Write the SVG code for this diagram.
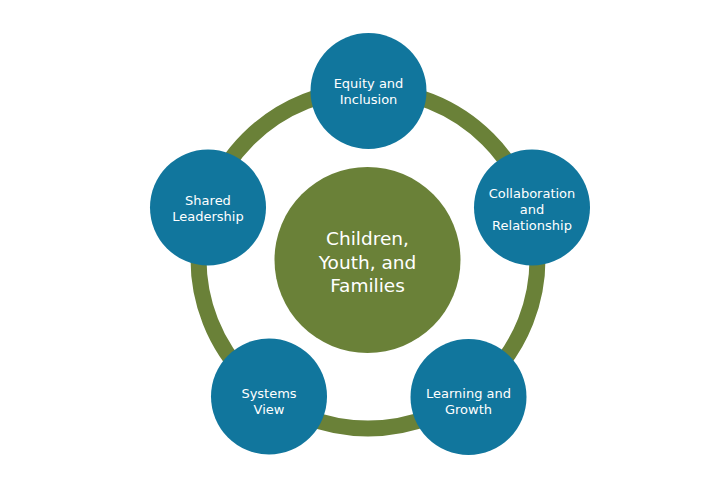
<svg xmlns="http://www.w3.org/2000/svg" width="720" height="500" viewBox="0 0 720 500">
<style>
.node{fill:#11769D}
.lbl{font-family:"DejaVu Sans","Open Sans",sans-serif;font-size:13px;fill:#ffffff;text-anchor:middle}
.big{font-family:"DejaVu Sans","Open Sans",sans-serif;font-size:18.5px;fill:#ffffff;text-anchor:middle}
</style>
<rect width="720" height="500" fill="#ffffff"/>
<g id="connectors">
<circle cx="368" cy="259" r="169.5" fill="none" stroke="#6A8138" stroke-width="16"/>
</g>
<g id="center">
<circle cx="367.5" cy="260" r="93" fill="#6A8138"/>
<text class="big" x="367.5" y="245">Children,</text>
<text class="big" x="367.5" y="269">Youth, and</text>
<text class="big" x="367.5" y="292">Families</text>
</g>
<g id="equity">
<circle class="node" cx="368.5" cy="91" r="58"/>
<text class="lbl" x="368.5" y="88">Equity and</text>
<text class="lbl" x="368.5" y="104">Inclusion</text>
</g>
<g id="shared">
<circle class="node" cx="208" cy="207.5" r="58"/>
<text class="lbl" x="208" y="205">Shared</text>
<text class="lbl" x="208" y="221">Leadership</text>
</g>
<g id="collab">
<circle class="node" cx="532" cy="207.5" r="58"/>
<text class="lbl" x="532" y="198">Collaboration</text>
<text class="lbl" x="532" y="214">and</text>
<text class="lbl" x="532" y="230">Relationship</text>
</g>
<g id="systems">
<circle class="node" cx="269" cy="396.5" r="58"/>
<text class="lbl" x="269" y="398">Systems</text>
<text class="lbl" x="269" y="414">View</text>
</g>
<g id="learning">
<circle class="node" cx="468.5" cy="397" r="58"/>
<text class="lbl" x="468.5" y="398">Learning and</text>
<text class="lbl" x="468.5" y="414">Growth</text>
</g>
</svg>
